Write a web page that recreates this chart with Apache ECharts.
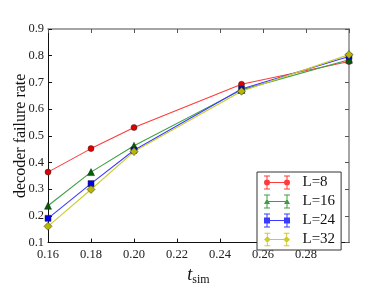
<!DOCTYPE html>
<html><head><meta charset="utf-8">
<script src="https://cdn.jsdelivr.net/npm/echarts@6/dist/echarts.min.js"></script>
<style>html,body{margin:0;padding:0;background:#fff}#c{width:388px;height:291px}</style>
</head><body><div id="c"></div>
<script>
const tSim = [0.16, 0.18, 0.20, 0.25, 0.30];
const L8  = [0.364, 0.452, 0.531, 0.693, 0.778];
const L16 = [0.238, 0.364, 0.463, 0.672, 0.785];
const L24 = [0.191, 0.321, 0.446, 0.675, 0.797];
const L32 = [0.161, 0.299, 0.441, 0.667, 0.804];
const seriesNames = ['L=8', 'L=16', 'L=24', 'L=32'];
const xTicks = {min: 0.16, max: 0.30, interval: 0.02};
const yTicks = {min: 0.1, max: 0.9, interval: 0.1};

const FONT = 'Liberation Serif';
function bar(cx){return 'M'+(cx-0.5)+' 0 H'+(cx+0.5)+' V14 H'+(cx-0.5)+' Z M'+(cx-3)+' 0 H'+(cx+3)+' V1 H'+(cx-3)+' Z M'+(cx-3)+' 13 H'+(cx+3)+' V14 H'+(cx-3)+' Z ';}
const bars = bar(3.5) + bar(23.5) + 'M3.5 6.5 H23.5 V7.5 H3.5 Z ';
function circ(cx){return 'M'+(cx-3)+' 7 A3 3 0 1 1 '+(cx+3)+' 7 A3 3 0 1 1 '+(cx-3)+' 7 Z ';}
function tri(cx){return 'M'+cx+' 4 L'+(cx+3)+' 9.5 L'+(cx-3)+' 9.5 Z ';}
function sq(cx){return 'M'+(cx-3)+' 4 H'+(cx+3)+' V10 H'+(cx-3)+' Z ';}
function dia(cx){return 'M'+cx+' 3.5 L'+(cx+3.5)+' 7 L'+cx+' 10.5 L'+(cx-3.5)+' 7 Z ';}
const icons = [
  'path://' + bars + circ(3.5) + circ(23.5),
  'path://' + bars + tri(3.5) + tri(23.5),
  'path://' + bars + sq(3.5) + sq(23.5),
  'path://' + bars + dia(3.5) + dia(23.5)
];
const lineColors = ['#ff3b3b', '#3f9f3f', '#3b3bff', '#cccc30'];
const markColors = ['#e00000', '#006000', '#0000e8', '#b8b800'];
const symbols = ['circle', 'triangle', 'rect', 'diamond'];
const sizes = [6, 7, 6, 8];
const dataSets = [L8, L16, L24, L32];

const chart = echarts.init(document.getElementById('c'), null, {renderer: 'canvas'});
const axisFont = {fontFamily: FONT, fontSize: 12.5, color: '#222'};
chart.setOption({
  animation: false,
  grid: {left: 48, right: 39, top: 29, bottom: 30},
  legend: {
    orient: 'vertical', left: 257, top: 172,
    backgroundColor: '#fff', borderColor: '#333', borderWidth: 1, borderRadius: 0,
    padding: [3, 6, 3, 7], itemWidth: 26, itemHeight: 14, itemGap: 4,
    formatter: name => '\u2002' + name,
    textStyle: {fontFamily: FONT, fontSize: 15, color: '#111'},
    data: seriesNames.map((n, i) => ({name: n, icon: icons[i], itemStyle: {color: lineColors[i], borderWidth: 0, opacity: 1}, lineStyle: {width: 0}}))
  },
  xAxis: [{
    type: 'value', min: xTicks.min, max: xTicks.max, interval: xTicks.interval,
    axisLine: {lineStyle: {color: '#111', width: 1}},
    axisTick: {inside: true, length: 4, lineStyle: {color: '#111'}},
    axisLabel: Object.assign({margin: 6, showMaxLabel: false, formatter: v => v.toFixed(2)}, axisFont),
    splitLine: {show: false},
    name: '{t|t}{s|sim}', nameLocation: 'middle', nameGap: 17,
    nameTextStyle: {rich: {
      t: {fontFamily: FONT, fontStyle: 'italic', fontSize: 18, color: '#111'},
      s: {fontFamily: FONT, fontSize: 12, color: '#111', padding: [9, 0, 0, 0]}
    }}
  }, {
    type: 'value', position: 'top', min: xTicks.min, max: xTicks.max, interval: xTicks.interval,
    axisLine: {lineStyle: {color: '#888', width: 1.5}},
    axisTick: {inside: true, length: 4, lineStyle: {color: '#555'}},
    axisLabel: {show: false}, splitLine: {show: false}
  }],
  yAxis: [{
    type: 'value', min: yTicks.min, max: yTicks.max, interval: yTicks.interval,
    axisLine: {show: true, lineStyle: {color: '#111', width: 1}},
    axisTick: {show: true, inside: true, length: 4, lineStyle: {color: '#111'}},
    axisLabel: Object.assign({margin: 4, formatter: v => v.toFixed(1)}, axisFont),
    splitLine: {show: false},
    name: 'decoder failure rate', nameLocation: 'middle', nameGap: 19, nameMoveOverlap: false,
    nameTextStyle: {fontFamily: FONT, fontSize: 16, color: '#111'}
  }, {
    type: 'value', position: 'right', min: yTicks.min, max: yTicks.max, interval: yTicks.interval,
    axisLine: {show: true, lineStyle: {color: '#888', width: 1.5}},
    axisTick: {show: true, inside: true, length: 4, lineStyle: {color: '#555'}},
    axisLabel: {show: false}, splitLine: {show: false}
  }],
  series: dataSets.map((d, i) => ({
    name: seriesNames[i], type: 'line', xAxisIndex: 0, yAxisIndex: 0,
    data: tSim.map((x, k) => [x, d[k]]),
    symbol: symbols[i], symbolSize: sizes[i], showAllSymbol: true,
    lineStyle: {color: lineColors[i], width: 1.1},
    itemStyle: {color: markColors[i], borderColor: '#222', borderWidth: 0.5},
    emphasis: {disabled: true}
  }))
});
</script></body></html>
